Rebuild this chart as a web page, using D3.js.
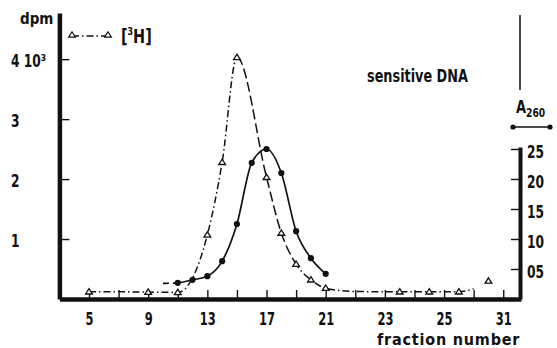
<!DOCTYPE html>
<html>
<head>
<meta charset="utf-8">
<script src="https://cdn.jsdelivr.net/npm/d3@7"></script>
<style>
  html, body { margin: 0; padding: 0; background: #fff; }
  svg { display: block; }
  text { font-family: "DejaVu Sans Condensed", "DejaVu Sans", sans-serif; font-weight: bold; fill: #111; }
</style>
</head>
<body>
<svg id="chart" width="557" height="348"></svg>
<script>
// [3H] counts per fraction (dpm)
const h3Fraction = [5, 7, 9, 11, 13, 14, 15, 17, 18, 19, 20, 21, 23, 26, 28, 30, 31];
const h3Dpm      = [120, 120, 115, 110, 1070, 2280, 4030, 2030, 1100, 580, 320, 180, 125, 120, 120, 120, 170];
// fractions marked with an open triangle
const h3Marked   = [5, 9, 11, 13, 14, 15, 17, 18, 19, 20, 21, 26, 28, 30];
// last count, not joined to the curve
const h3LoneFraction = [32];
const h3LoneDpm      = [300];

// absorbance at 260 nm
const a260Fraction = [10, 11, 12, 13, 14, 15, 16, 17, 18, 19, 20, 21];
const a260Value    = [0.26, 0.27, 0.32, 0.38, 0.63, 1.25, 2.27, 2.5, 2.1, 1.13, 0.68, 0.42];
// fractions marked with a filled dot
const a260Marked   = [11, 12, 13, 14, 15, 16, 17, 18, 19, 20, 21];

// axis ticks and their printed labels
const xTickFractions  = [5, 7, 9, 11, 13, 15, 17, 19, 21, 23, 25, 27, 29, 31, 33];
const xLabelFractions = [5, 9, 13, 17, 21, 25, 29, 33];
const xLabels         = ["5", "9", "13", "17", "21", "23", "25", "31"];
const dpmTicks  = [1000, 2000, 3000, 4000];
const dpmLabels = ["1", "2", "3", "4 10\u00b3"];
const a260Ticks  = [0.5, 1, 1.5, 2, 2.5];
const a260Labels = ["05", "10", "15", "20", "25"];

const svg = d3.select("#chart");

const x    = d3.scaleLinear().domain([3, 34.2]).range([59.4, 521]);
const yDpm = d3.scaleLinear().domain([0, 4770]).range([299, 13]);
const yA   = d3.scaleLinear().domain([0, 2.533]).range([299, 147]);

const ink = "#111";

// narrow the lettering horizontally, keeping each label's anchor point
function squeeze(sel, k) {
  sel.each(function () {
    const t = d3.select(this);
    const x0 = +t.attr("x") || 0;
    t.attr("x", x0 / k).attr("transform", `scale(${k},1)`);
  });
}

// ---- axes ----
const leftAxis = svg.append("g")
  .attr("transform", `translate(${x(3)},0)`)
  .call(d3.axisLeft(yDpm).tickValues(dpmTicks).tickSize(-10).tickSizeOuter(0)
        .tickFormat((d, i) => dpmLabels[i]));
leftAxis.select(".domain").attr("stroke", ink).attr("stroke-width", 4.5);
leftAxis.selectAll(".tick line").attr("stroke", ink).attr("stroke-width", 1.4);
leftAxis.selectAll(".tick text")
  .attr("x", 11 - x(3)).attr("dy", "0.45em")
  .attr("text-anchor", "start").attr("font-size", 17)
  .call(squeeze, 0.8);

const bottomAxis = svg.append("g")
  .attr("transform", `translate(0,${yDpm(0)})`)
  .call(d3.axisBottom(x).tickValues(xTickFractions).tickSize(-9).tickSizeOuter(0)
        .tickFormat(d => { const k = xLabelFractions.indexOf(d); return k < 0 ? "" : xLabels[k]; }));
bottomAxis.select(".domain").attr("stroke", ink).attr("stroke-width", 4.5);
bottomAxis.selectAll(".tick line").attr("stroke", ink).attr("stroke-width", 1.4);
bottomAxis.selectAll(".tick text")
  .attr("y", 26).attr("dy", 0).attr("font-size", 17)
  .call(squeeze, 0.75);

const rightAxis = svg.append("g")
  .attr("transform", `translate(${x(34.2) - 1},0)`)
  .call(d3.axisRight(yA).tickValues(a260Ticks).tickSize(-9).tickSizeOuter(0).tickPadding(7)
        .tickFormat((d, i) => a260Labels[i]));
rightAxis.select(".domain").attr("stroke", ink).attr("stroke-width", 4);
rightAxis.selectAll(".tick line").attr("stroke", ink).attr("stroke-width", 1.4);
rightAxis.selectAll(".tick text").attr("dy", "0.5em").attr("font-size", 17)
  .call(squeeze, 0.8);

// thin rule above the A260 label
svg.append("line")
  .attr("x1", 520).attr("x2", 520).attr("y1", 15).attr("y2", 90)
  .attr("stroke", ink).attr("stroke-width", 1.5);

// ---- [3H] curve ----
const h3Pts = h3Fraction.map((f, i) => [f, h3Dpm[i]]);
const h3Line = d3.line().x(d => x(d[0])).y(d => yDpm(d[1])).curve(d3.curveMonotoneX);

const defs = svg.append("defs");
function clipBand(id, f0, f1) {
  defs.append("clipPath").attr("id", id).append("rect")
    .attr("x", x(f0)).attr("y", 0).attr("width", x(f1) - x(f0)).attr("height", 348);
}
clipBand("rise", 3, 15);
clipBand("fall", 15, 19);
clipBand("tail", 19, 34);
clipBand("lead", 3, 10.9);
clipBand("body", 10.9, 34);

const h3Bands = [["rise", "7,3,1.5,3"], ["fall", "10,4"], ["tail", "7,3,1.5,3"]];
h3Bands.forEach(([id, dash]) => {
  svg.append("path").datum(h3Pts)
    .attr("clip-path", `url(#${id})`)
    .attr("d", h3Line)
    .attr("fill", "none").attr("stroke", ink).attr("stroke-width", 1.5)
    .attr("stroke-dasharray", dash);
});

// ---- A260 curve ----
const aPts = a260Fraction.map((f, i) => [f, a260Value[i]]);
const aLine = d3.line().x(d => x(d[0])).y(d => yA(d[1])).curve(d3.curveMonotoneX);
svg.append("path").datum(aPts).attr("clip-path", "url(#lead)")
  .attr("d", aLine).attr("fill", "none").attr("stroke", ink).attr("stroke-width", 1.6)
  .attr("stroke-dasharray", "6,4");
svg.append("path").datum(aPts).attr("clip-path", "url(#body)")
  .attr("d", aLine).attr("fill", "none").attr("stroke", ink).attr("stroke-width", 1.7);

// ---- markers ----
const tri = "M0,-3.2L3.4,2.2L-3.4,2.2Z";
const h3Lookup = new Map(h3Pts);
svg.append("g").selectAll("path.tri")
  .data(h3Marked.map(f => [f, h3Lookup.get(f)])
        .concat(h3LoneFraction.map((f, i) => [f, h3LoneDpm[i]])))
  .join("path").attr("class", "tri")
  .attr("d", tri)
  .attr("transform", d => `translate(${x(d[0])},${yDpm(d[1])})`)
  .attr("fill", "#fff").attr("stroke", ink).attr("stroke-width", 1.3);

const aLookup = new Map(aPts);
svg.append("g").selectAll("circle")
  .data(a260Marked.map(f => [f, aLookup.get(f)]))
  .join("circle")
  .attr("cx", d => x(d[0])).attr("cy", d => yA(d[1])).attr("r", 3.1)
  .attr("fill", ink);

// ---- legends ----
svg.append("line").attr("x1", 72).attr("x2", 108).attr("y1", 36).attr("y2", 36)
  .attr("stroke", ink).attr("stroke-width", 1.4).attr("stroke-dasharray", "7,3,1.5,3");
svg.selectAll("path.legtri").data([72, 108]).join("path").attr("class", "legtri")
  .attr("d", tri).attr("transform", d => `translate(${d},35)`)
  .attr("fill", "#fff").attr("stroke", ink).attr("stroke-width", 1.2);
const h3Label = svg.append("text").attr("x", 121).attr("y", 43).attr("font-size", 20);
h3Label.append("tspan").text("[");
h3Label.append("tspan").attr("font-size", 11).attr("dy", -8).text("3");
h3Label.append("tspan").attr("dy", 8).text("H]");
h3Label.call(squeeze, 0.8);

svg.append("line").attr("x1", 513).attr("x2", 550).attr("y1", 127).attr("y2", 127)
  .attr("stroke", ink).attr("stroke-width", 1.4);
svg.selectAll("circle.leg").data([513, 550]).join("circle").attr("class", "leg")
  .attr("cx", d => d).attr("cy", 127).attr("r", 2.6).attr("fill", ink);
const aLabel = svg.append("text").attr("x", 516).attr("y", 113).attr("font-size", 17);
aLabel.append("tspan").text("A");
aLabel.append("tspan").attr("font-size", 12).attr("dy", 4).text("260");
aLabel.call(squeeze, 0.85);

// ---- titles ----
svg.append("text").attr("x", 20).attr("y", 24).attr("font-size", 15).text("dpm");
svg.append("text").attr("x", 367).attr("y", 82).attr("font-size", 17)
  .text("sensitive DNA").call(squeeze, 0.84);
svg.append("text").attr("x", 377).attr("y", 345).attr("font-size", 16)
  .attr("letter-spacing", 0.8).text("fraction number");
</script>
</body>
</html>
